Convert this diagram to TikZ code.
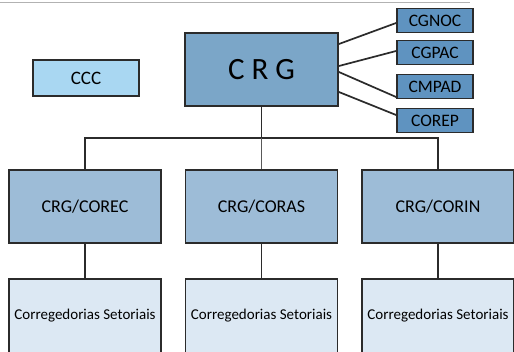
\documentclass[tikz,border=0pt]{standalone}
\usepackage{fontspec}
\setmainfont{Carlito}
\definecolor{azulclaro}{HTML}{A9D7F2}
\definecolor{azulcrg}{HTML}{7BA6C8}
\definecolor{azulescuro}{HTML}{5F93C0}
\definecolor{azulmedio}{HTML}{9DBCD7}
\definecolor{azulfundo}{HTML}{DCE8F3}
\definecolor{borda}{HTML}{2B2B2B}

\begin{document}
\begin{tikzpicture}[x=1pt, y=-1pt,
  caixa/.style={draw=borda, line width=1.8pt, inner sep=0pt, align=center},
  pequena/.style={caixa, fill=azulescuro, minimum width=76pt, minimum height=24pt, font=\fontsize{17.5}{17.5}\selectfont},
  coord/.style={caixa, fill=azulmedio, minimum width=152pt, minimum height=73pt, font=\fontsize{18}{18}\selectfont},
  setorial/.style={caixa, fill=azulfundo, minimum width=152pt, minimum height=74pt, font=\fontsize{15}{15}\selectfont},
  liga/.style={draw=borda, line width=1.7pt}]

% Area visivel
\clip (0, 0) rectangle (514, 351);
\fill[white] (0, 0) rectangle (514, 351);
\draw[gray!60, line width=1pt] (0, 2) -- (470, 2);

% Caixas de cima
\node[caixa, fill=azulclaro, minimum width=106pt, minimum height=36pt, font=\fontsize{19}{19}\selectfont] (ccc) at (86, 78) {CCC};
\node[caixa, fill=azulcrg, minimum width=153pt, minimum height=73pt, font=\fontsize{31}{31}\selectfont] (crg) at (261.5, 69.5) {C R G};

\node[pequena] (cgnoc) at (435, 20.5) {CGNOC};
\node[pequena] (cgpac) at (435, 52.5) {CGPAC};
\node[pequena] (cmpad) at (435, 86.5) {CMPAD};
\node[pequena] (corep) at (435, 120.5) {COREP};

% Ligacoes a direita
\draw[liga] ([yshift=25.5pt]crg.east) -- ([yshift=-2.5pt]cgnoc.west);
\draw[liga] ([yshift=3.5pt]crg.east) -- ([yshift=1.5pt]cgpac.west);
\draw[liga] ([yshift=-2.5pt]crg.east) -- ([yshift=-10.5pt]cmpad.west);
\draw[liga] ([yshift=-22.5pt]crg.east) -- ([yshift=5.5pt]corep.west);

% Coordenacoes
\node[coord] (corec) at (85, 206.5) {CRG/COREC};
\node[coord] (coras) at (261.5, 206.5) {CRG/CORAS};
\node[coord] (corin) at (438, 206.5) {CRG/CORIN};

\coordinate (barra) at (261.5, 138);
\draw[liga] (crg.south) -- (barra);
\draw[liga] (corec.north) |- (barra) -| (corin.north);
\draw[liga, line width=1pt, draw=gray!70!black] (barra) -- (coras.north);

% Corregedorias setoriais
\node[setorial] (setorec) at (85, 316) {Corregedorias Setoriais};
\node[setorial] (setoras) at (261.5, 316) {Corregedorias Setoriais};
\node[setorial] (setorin) at (438, 316) {Corregedorias Setoriais};

\draw[liga] (corec.south) -- (setorec.north);
\draw[liga] (coras.south) -- (setoras.north);
\draw[liga] (corin.south) -- (setorin.north);

\end{tikzpicture}
\end{document}
